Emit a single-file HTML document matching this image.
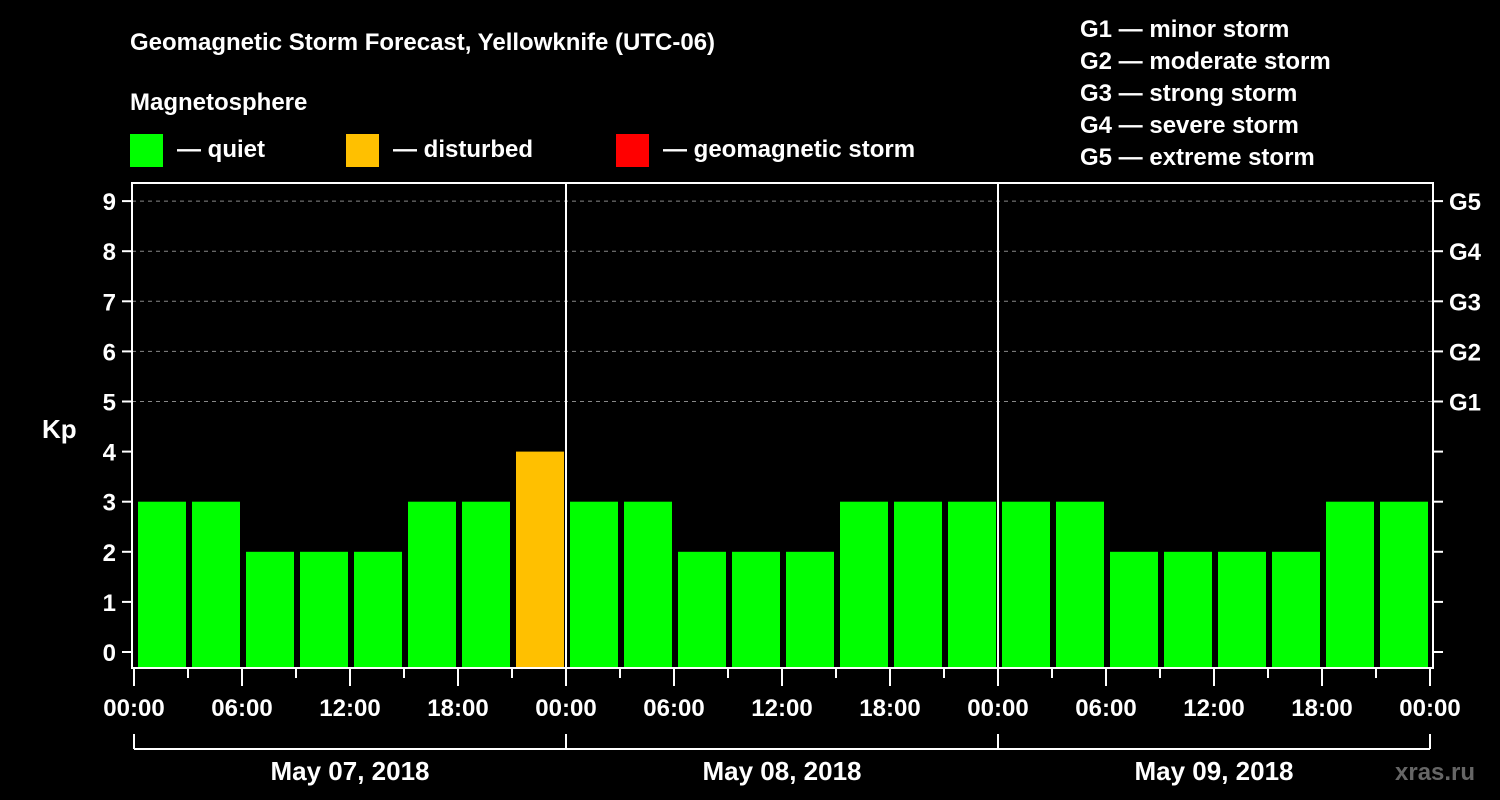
<!DOCTYPE html>
<html><head><meta charset="utf-8"><style>
html,body{margin:0;padding:0;background:#000;width:1500px;height:800px;overflow:hidden}
svg{display:block;font-family:"Liberation Sans",Arial,sans-serif;font-weight:bold}
</style></head><body>
<svg id="chart" width="1500" height="800" viewBox="0 0 1500 800">
<rect width="1500" height="800" fill="#000"/>
<text x="130" y="50" fill="#fff" font-size="24">Geomagnetic Storm Forecast, Yellowknife (UTC-06)</text>
<text x="130" y="110" fill="#fff" font-size="24">Magnetosphere</text>
<g><rect x="130" y="134" width="33" height="33" fill="#00ff00"/><text x="177" y="157" fill="#fff" font-size="24">— quiet</text></g>
<g><rect x="346" y="134" width="33" height="33" fill="#ffc000"/><text x="393" y="157" fill="#fff" font-size="24">— disturbed</text></g>
<g><rect x="616" y="134" width="33" height="33" fill="#ff0000"/><text x="663" y="157" fill="#fff" font-size="24">— geomagnetic storm</text></g>
<g fill="#fff" font-size="24">
<text x="1080" y="37">G1 — minor storm</text><text x="1080" y="69">G2 — moderate storm</text><text x="1080" y="101">G3 — strong storm</text><text x="1080" y="133">G4 — severe storm</text><text x="1080" y="165">G5 — extreme storm</text>
</g>
<text x="42" y="438" fill="#fff" font-size="26">Kp</text>
<text x="1395" y="780" fill="#666" font-size="24">xras.ru</text>
<g id="grid"></g><g id="bars"></g><g id="axes"></g>
</svg>
<script>
const kpValues=[3,3,2,2,2,3,3,4, 3,3,2,2,2,3,3,3, 3,3,2,2,2,2,3,3];
const dayLabels=["May 07, 2018","May 08, 2018","May 09, 2018"];
const hourLabels=["00:00","06:00","12:00","18:00"];
const gLabels=["G1","G2","G3","G4","G5"];
const NS="http://www.w3.org/2000/svg";
const X0=134,DAYW=432,SLOT=DAYW/8,LEFT=132,RIGHT=1433,TOP=183,BOT=668;
const y=v=>652-v*50.1;
const x=h=>X0+h*DAYW/24;
function mk(t,a,p){const e=document.createElementNS(NS,t);for(const k in a)e.setAttribute(k,a[k]);p.appendChild(e);return e;}
const grid=document.getElementById('grid'),bars=document.getElementById('bars'),axes=document.getElementById('axes');
for(let v=5;v<=9;v++){const l=mk('line',{x1:LEFT,x2:RIGHT,y1:y(v),y2:y(v),stroke:'#888','stroke-dasharray':'4,4','stroke-width':1},grid);

}
kpValues.forEach((v,i)=>{const c=v>=5?'#ff0000':v>=4?'#ffc000':'#00ff00';
const r=mk('rect',{x:x(i*3)+4,y:y(v),width:SLOT-6,height:BOT-y(v),fill:c},bars);

});
mk('rect',{x:LEFT,y:TOP,width:RIGHT-LEFT,height:BOT-TOP,fill:'none',stroke:'#fff','stroke-width':2},axes);
for(let d=1;d<3;d++){const l=mk('line',{x1:x(d*24),x2:x(d*24),y1:TOP,y2:BOT,stroke:'#fff','stroke-width':2},axes);

}
for(let v=0;v<=9;v++){mk('line',{x1:LEFT-10,x2:LEFT,y1:y(v),y2:y(v),stroke:'#fff','stroke-width':2},axes);
mk('line',{x1:RIGHT,x2:RIGHT+10,y1:y(v),y2:y(v),stroke:'#fff','stroke-width':2},axes);
const t=mk('text',{x:LEFT-16,y:y(v)+9,fill:'#fff','font-size':24,'text-anchor':'end'},axes);t.textContent=v;

}
gLabels.forEach((g,i)=>{const t=mk('text',{x:1449,y:y(i+5)+9,fill:'#fff','font-size':24},axes);t.textContent=g;

});
for(let h=0;h<=72;h+=3){const major=h%6===0;
mk('line',{x1:x(h),x2:x(h),y1:BOT,y2:BOT+(major?18:10),stroke:'#fff','stroke-width':2},axes);
if(major){const t=mk('text',{x:x(h),y:716,fill:'#fff','font-size':24,'text-anchor':'middle'},axes);t.textContent=hourLabels[(h/6)%4];

}}
mk('line',{x1:x(0),x2:x(72),y1:749,y2:749,stroke:'#fff','stroke-width':2},axes);
for(let d=0;d<=3;d++)mk('line',{x1:x(d*24),x2:x(d*24),y1:734,y2:749,stroke:'#fff','stroke-width':2},axes);
dayLabels.forEach((s,d)=>{const t=mk('text',{x:x(d*24+12),y:780,fill:'#fff','font-size':26,'text-anchor':'middle'},axes);t.textContent=s;

});
</script>
</body></html>
